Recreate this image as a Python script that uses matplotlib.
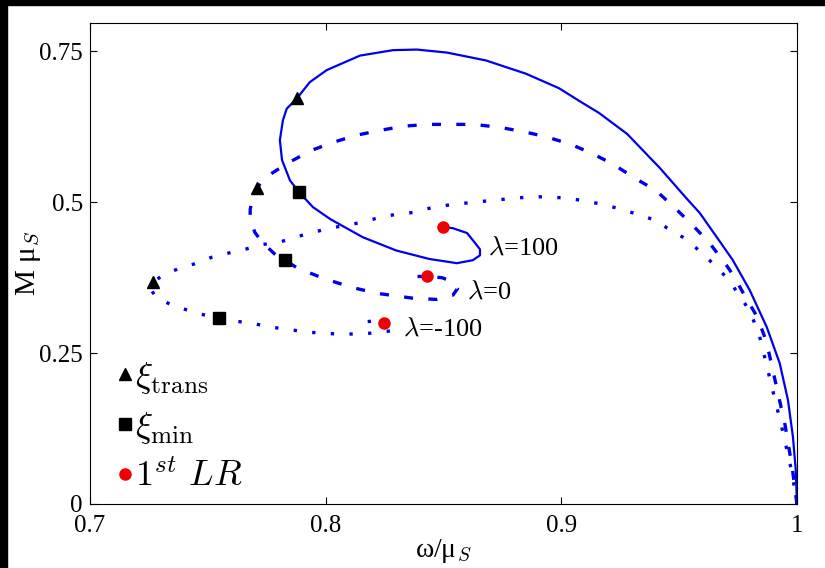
import matplotlib
matplotlib.use("Agg")
import matplotlib.pyplot as plt
from matplotlib.lines import Line2D
from matplotlib.patches import Rectangle

plt.rcParams['font.family'] = ['Liberation Serif', 'DejaVu Serif']
plt.rcParams['mathtext.fontset'] = 'cm'

# lambda = 100 (solid)
w_p100 = [1.0, 0.9995, 0.9983, 0.9962, 0.9927, 0.9872, 0.980, 0.9728, 0.966, 0.9588,
          0.953, 0.942, 0.928, 0.916, 0.908, 0.899, 0.885, 0.868, 0.8515, 0.8387, 0.8286,
          0.8146, 0.8005, 0.7933, 0.7878, 0.7835, 0.7819, 0.7806, 0.7815, 0.7849, 0.7887, 0.7946,
          0.802, 0.8158, 0.830, 0.844, 0.8557, 0.8625, 0.8655, 0.8655, 0.8625, 0.860,
          0.854, 0.8497]
m_p100 = [0.0, 0.056, 0.111, 0.172, 0.233, 0.293, 0.354, 0.404, 0.442, 0.482,
          0.507, 0.556, 0.613, 0.648, 0.667, 0.689, 0.713, 0.735, 0.748, 0.753, 0.752,
          0.743, 0.719, 0.699, 0.672, 0.655, 0.636, 0.603, 0.570, 0.536, 0.517, 0.492,
          0.472, 0.442, 0.420, 0.406, 0.399, 0.404, 0.412, 0.422, 0.437, 0.449,
          0.457, 0.459]

# lambda = 0 (dashed)
w_0 = [1.0, 0.998, 0.995, 0.991, 0.987, 0.983, 0.978, 0.973, 0.970, 0.963,
       0.955, 0.947, 0.940, 0.932, 0.922, 0.913, 0.904, 0.894, 0.884, 0.874,
       0.863, 0.8536, 0.8434, 0.833, 0.823, 0.813, 0.803, 0.794, 0.784, 0.774,
       0.7708, 0.769, 0.768, 0.768, 0.770, 0.773, 0.779, 0.7827, 0.788, 0.799,
       0.811, 0.822, 0.837, 0.847, 0.854, 0.856, 0.854, 0.8494, 0.843, 0.839]
m_0 = [0.0, 0.06, 0.13, 0.2, 0.27, 0.311, 0.344, 0.379, 0.396, 0.432,
       0.465, 0.495, 0.520, 0.538, 0.563, 0.581, 0.596, 0.608, 0.617, 0.624,
       0.629, 0.629, 0.629, 0.626, 0.619, 0.611, 0.599, 0.586, 0.565, 0.540,
       0.523, 0.507, 0.488, 0.470, 0.450, 0.434, 0.412, 0.404, 0.391, 0.374,
       0.359, 0.349, 0.341, 0.339, 0.346, 0.357, 0.368, 0.375, 0.377, 0.377]

# lambda = -100 (dotted)
w_m100 = [1.0, 0.998, 0.994, 0.989, 0.984, 0.980, 0.976, 0.972, 0.967, 0.962,
          0.957, 0.9516, 0.945, 0.940, 0.934, 0.924, 0.9155, 0.909, 0.9015, 0.894,
          0.887, 0.873, 0.858, 0.8515, 0.844, 0.837, 0.830, 0.823, 0.8158, 0.809,
          0.8018, 0.7946, 0.787, 0.7806, 0.7734, 0.7658, 0.7586, 0.7518, 0.7454, 0.7382,
          0.731, 0.7267, 0.726, 0.728, 0.7348, 0.7416, 0.747, 0.7547, 0.7615, 0.7687,
          0.7764, 0.7836, 0.791, 0.7997, 0.807, 0.819, 0.828, 0.830, 0.8247, 0.820,
          0.814]
m_m100 = [0.0, 0.05, 0.12, 0.2, 0.28, 0.320, 0.343, 0.366, 0.389, 0.407,
          0.425, 0.442, 0.457, 0.470, 0.478, 0.490, 0.498, 0.503, 0.507, 0.509,
          0.509, 0.504, 0.498, 0.495, 0.490, 0.483, 0.480, 0.475, 0.467, 0.462,
          0.457, 0.450, 0.442, 0.434, 0.430, 0.422, 0.4156, 0.409, 0.399, 0.391,
          0.379, 0.3675, 0.355, 0.3427, 0.3295, 0.321, 0.3146, 0.308, 0.303, 0.2997,
          0.293, 0.290, 0.285, 0.283, 0.281, 0.283, 0.287, 0.294, 0.300, 0.303,
          0.301]

# special points: xi_trans (triangles), xi_min (squares), first light ring (red)
trans_w = [0.7878, 0.7708, 0.7267]
trans_m = [0.672, 0.523, 0.3675]
min_w = [0.7887, 0.7827, 0.7547]
min_m = [0.517, 0.404, 0.308]
lr_w = [0.8497, 0.843, 0.8247]
lr_m = [0.459, 0.377, 0.300]

lam_labels = [r'$\lambda$=100', r'$\lambda$=0', r'$\lambda$=-100']
lam_w = [0.869, 0.860, 0.833]
lam_m = [0.424, 0.351, 0.289]

fig = plt.figure(figsize=(8.25, 5.68), dpi=100)
ax = fig.add_axes([0.109, 0.1127, 0.857, 0.8468])

blue = '#0000ee'
ax.plot(w_p100, m_p100, color=blue, lw=1.6, ls='-')
ax.plot(w_0, m_0, color=blue, lw=2.4, ls=(0, (2.7, 4.6)))
ax.plot(w_m100, m_m100, color=blue, lw=2.4, ls=(0, (1, 4.6)))

ax.plot(trans_w, trans_m, ls='none', marker='^', color='k', ms=8)
ax.plot(min_w, min_m, ls='none', marker='s', color='k', ms=8)
ax.plot(lr_w, lr_m, ls='none', marker='o', color='#ee0000', mec='none', ms=9)

for lab, xw, ym in zip(lam_labels, lam_w, lam_m):
    ax.text(xw, ym, lab, fontsize=19, va='center', ha='left')

ax.set_xlim(0.7, 1.0)
ax.set_ylim(0, 0.797)
ax.set_xticks([0.7, 0.8, 0.9, 1.0])
ax.set_xticklabels(['0.7', '0.8', '0.9', '1'])
ax.set_yticks([0, 0.25, 0.5, 0.75])
ax.set_yticklabels(['0', '0.25', '0.5', '0.75'])
ax.tick_params(direction='in', top=True, right=True, length=5, labelsize=18)
ax.tick_params(axis='x', pad=8)
ax.tick_params(axis='y', pad=5)
ax.set_xlabel(r'ω/μ$_S$', fontsize=20)
ax.set_ylabel(r'M μ$_S$', fontsize=21)
ax.xaxis.set_label_coords(0.5, -0.068)
ax.yaxis.set_label_coords(-0.066, 0.5)

handles = [
    Line2D([], [], ls='none', marker='^', color='k', ms=8, label=r'$\xi_{\rm trans}$'),
    Line2D([], [], ls='none', marker='s', color='k', ms=8, label=r'$\xi_{\rm min}$'),
    Line2D([], [], ls='none', marker='o', color='#ee0000', mec='none', ms=9, label=r'$1^{st}\ LR$'),
]
ax.legend(handles=handles, loc='lower left', bbox_to_anchor=(0.02, -0.01), frameon=False,
          fontsize=26, handlelength=0.35, handletextpad=0.1, labelspacing=0.4,
          borderaxespad=0.0)

# dark scan border on the top and left edges
fig.add_artist(Rectangle((0, 0), 7 / 825, 1, transform=fig.transFigure, color='k', zorder=10))
fig.add_artist(Rectangle((0, 1 - 5 / 568), 1, 5 / 568, transform=fig.transFigure, color='k', zorder=10))

plt.savefig('out.png', dpi=100)
